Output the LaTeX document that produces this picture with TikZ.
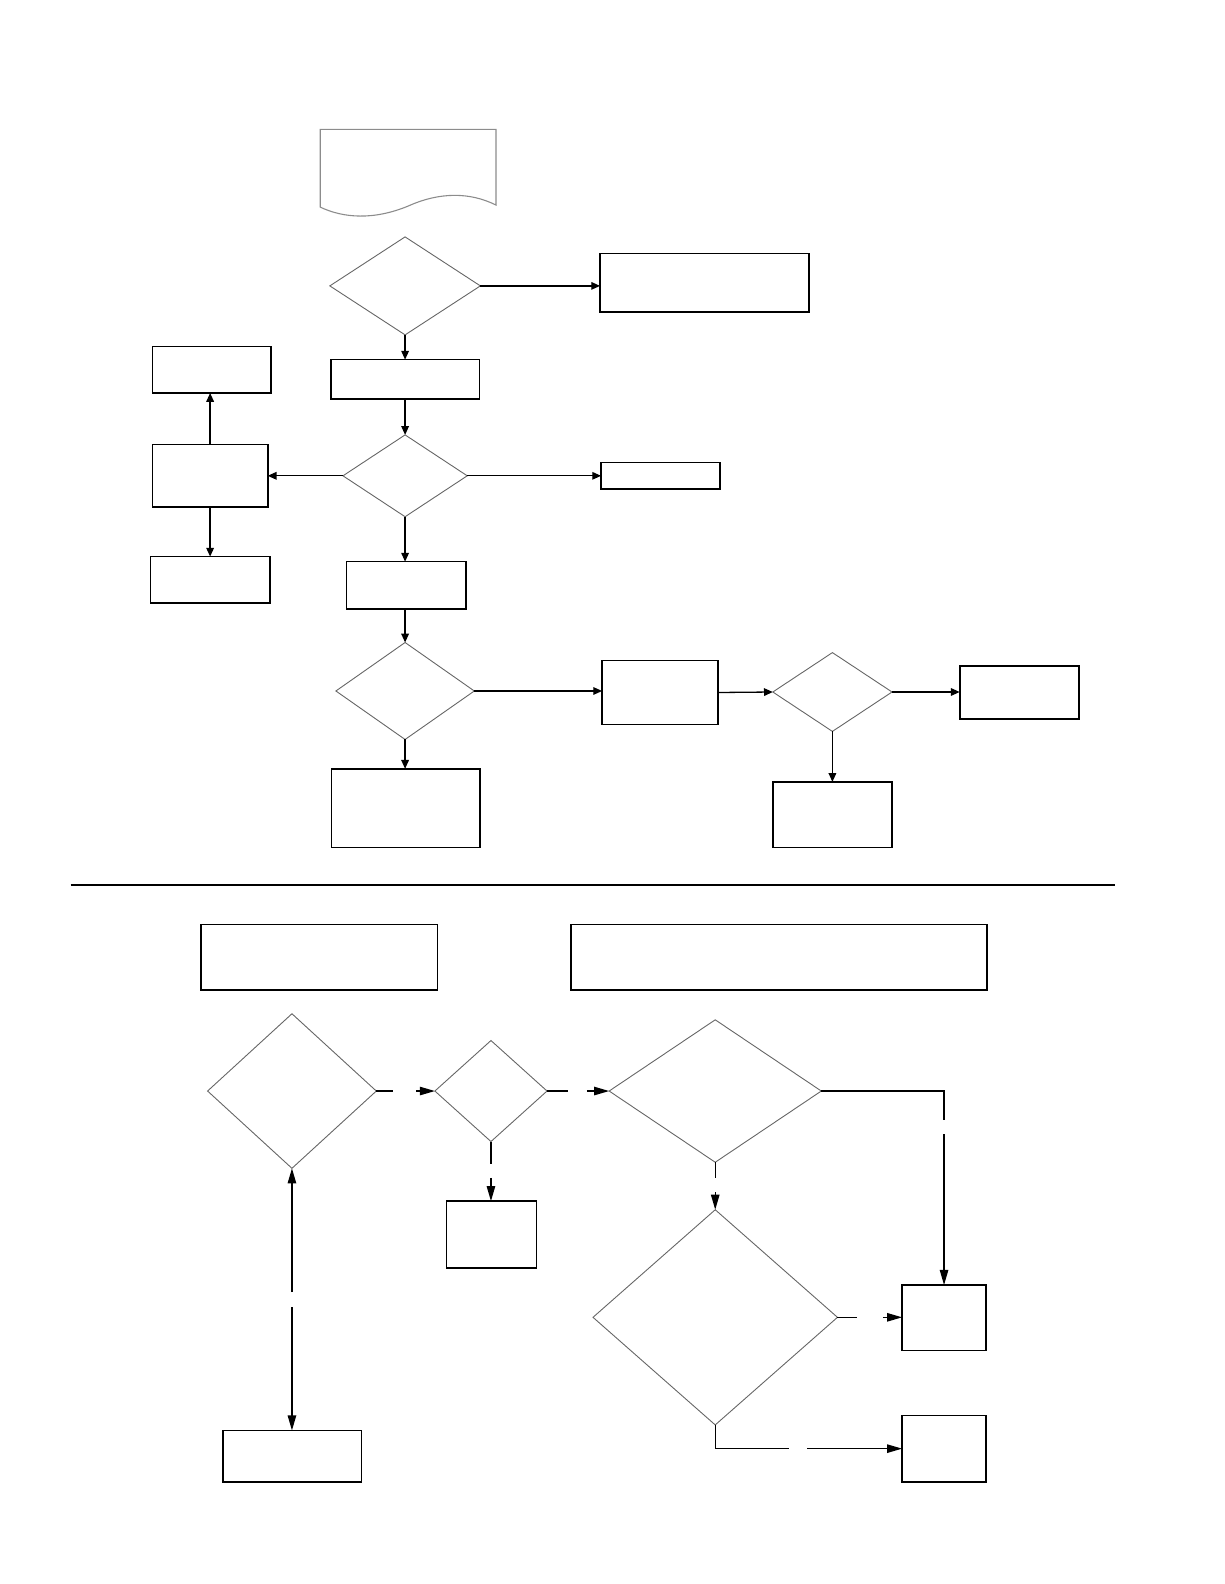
\documentclass[tikz,border=0pt]{standalone}
\usetikzlibrary{shapes.geometric,arrows.meta}
\newdimen\px \px=0.505pt
\begin{document}
\begin{tikzpicture}[x=0.505pt,y=-0.505pt,
  box/.style={draw,line width=0.8pt,inner sep=0pt,outer sep=0pt},
  dia/.style={diamond,draw=black!60,line width=0.45pt,inner sep=0pt,outer sep=0pt},
  arr/.style={line width=0.65pt,-{Triangle[length=4.4pt,width=3.8pt]}},
  arrb/.style={line width=0.65pt,-{Triangle[length=7.5pt,width=4.2pt]}},
  ln/.style={line width=0.65pt}]
  \useasboundingbox (0,0) rectangle (1212,1568);
  \draw[black!45,line width=0.55pt] (317,128) -- (491,128) -- (491,203)
    .. controls (465,190) and (435,190) .. (404,204)
    .. controls (370,218) and (340,216) .. (317,205) -- cycle;
  \foreach \n/\x/\y/\w/\h in {r1/697.5/280/207/58, b1/401/375.5/147/39,
      r2/654/471/118/26, lm/208/471/114/62, lt/209.5/366/117/46,
      lb/208/574/118/46, b2/402/579.5/118/47, b3/401.5/800/147/78,
      m/653.5/685.5/115/63, rr/1009/685.5/118/53, rb/824/806.5/118/65,
      t1/316/947.5/234/65, t2/771/947.5/412/65, s/486.5/1222/89/66,
      p/934.5/1304.5/83/65, q/934.5/1434/83/66, bl/289.5/1441.5/137/51}
    \node[box,minimum width=\w\px,minimum height=\h\px] (\n) at (\x,\y) {};
  \foreach \n/\x/\y/\w/\h in {d1/401/283/149/97, d2/401/471/123/81,
      d3/401/684/137/96, d4/824/685/118/78, d5/289/1080/167/153,
      d6/486/1080/111/100, d7/708/1080/210/141, d8/708/1304/242/213}
    \node[dia,minimum width=\w\px,minimum height=\h\px] (\n) at (\x,\y) {};
  \draw[arr] (d1.east) -- (d1.east -| r1.west);
  \draw[arr] (d1.south) -- (b1.north);
  \draw[arr] (b1.south) -- (d2.north);
  \draw[arr] (d2.east) -- (r2.west);
  \draw[arr] (d2.west) -- (lm.east);
  \draw[arr] (lm.north) -- (lm.north |- lt.south);
  \draw[arr] (lm.south) -- (lm.south |- lb.north);
  \draw[arr] (d2.south) -- (d2.south |- b2.north);
  \draw[arr] (b2.south -| d3.north) -- (d3.north);
  \draw[arr] (d3.south) -- (d3.south |- b3.north);
  \draw[arr] (d3.east) -- (d3.east -| m.west);
  \draw[arr] (m.east) -- (d4.west);
  \draw[arr] (d4.east) -- (d4.east -| rr.west);
  \draw[arr] (d4.south) -- (rb.north);
  \draw[line width=0.9pt] (70,876) -- (1104,876);
  \coordinate (g1) at (389,1080); \coordinate (h1) at (412,1080);
  \coordinate (g2) at (562,1080); \coordinate (h2) at (581,1080);
  \coordinate (g3) at (934.5,1109); \coordinate (h3) at (934.5,1123);
  \coordinate (g4) at (486,1152); \coordinate (h4) at (486,1166);
  \coordinate (g5) at (708,1166); \coordinate (h5) at (708,1180);
  \coordinate (g6) at (848,1304); \coordinate (h6) at (874,1304);
  \coordinate (g7) at (781,1434); \coordinate (h7) at (799,1434);
  \coordinate (g8) at (289,1279); \coordinate (h8) at (289,1294);
  \draw[ln] (d5.east) -- (g1);  \draw[arrb] (h1) -- (d6.west);
  \draw[ln] (d6.east) -- (g2);  \draw[arrb] (h2) -- (d7.west);
  \draw[ln] (d7.east) -| (g3);  \draw[arrb] (h3) -- (p.north);
  \draw[ln] (d6.south) -- (g4); \draw[arrb] (h4) -- (h4 |- s.north);
  \draw[ln] (d7.south) -- (g5); \draw[arrb] (h5) -- (d8.north);
  \draw[ln] (d8.east) -- (g6);  \draw[arrb] (h6) -- (h6 -| p.west);
  \draw[ln] (d8.south) |- (g7); \draw[arrb] (h7) -- (h7 -| q.west);
  \draw[arrb] (g8) -- (d5.south); \draw[arrb] (h8) -- (h8 |- bl.north);
\end{tikzpicture}
\end{document}
